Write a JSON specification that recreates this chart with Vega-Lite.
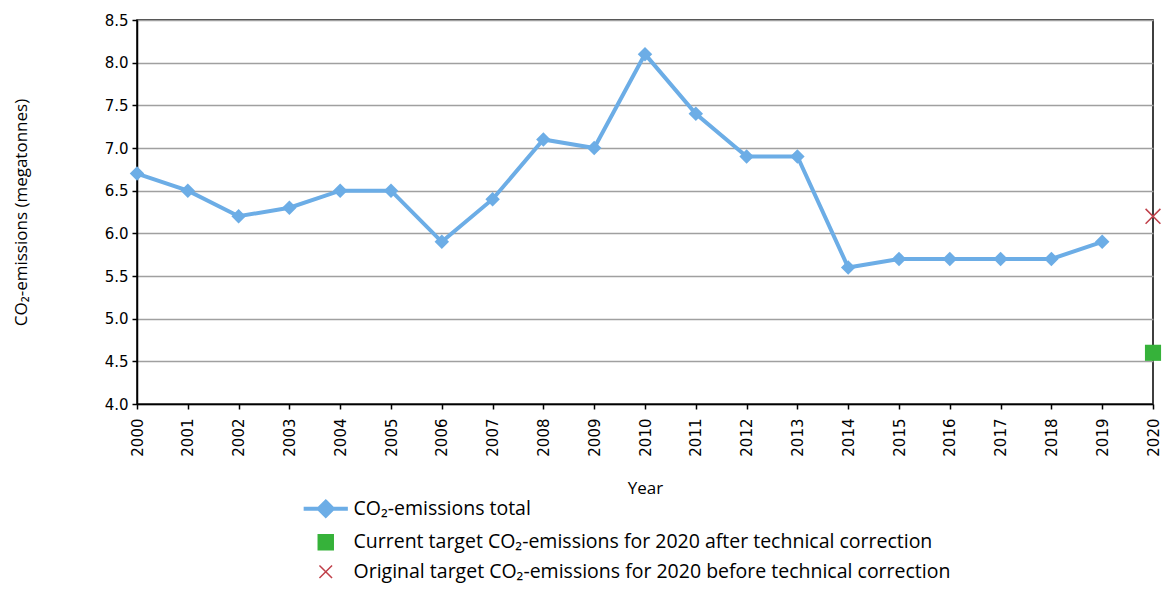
{
  "$schema": "https://vega.github.io/schema/vega-lite/v6.json",
  "autosize": "none",
  "width": 1016,
  "height": 384,
  "padding": {"left": 137, "top": 20, "right": 14, "bottom": 185},
  "background": "white",
  "config": {
    "view": {"stroke": "black", "strokeWidth": 1.5},
    "axis": {
      "domainColor": "black", "domainWidth": 1.5, "tickColor": "black", "tickWidth": 1.5, "tickSize": 5,
      "labelFont": "DejaVu Sans", "labelFontSize": 15, "labelColor": "black",
      "titleFont": "Open Sans", "titleFontSize": 17, "titleFontWeight": "normal", "titleColor": "black",
      "gridColor": "#A0A0A0", "gridWidth": 1.5
    }
  },
  "data": {
    "values": [
      {"year": 2000, "value": 6.7, "series": "CO₂-emissions total"},
      {"year": 2001, "value": 6.5, "series": "CO₂-emissions total"},
      {"year": 2002, "value": 6.2, "series": "CO₂-emissions total"},
      {"year": 2003, "value": 6.3, "series": "CO₂-emissions total"},
      {"year": 2004, "value": 6.5, "series": "CO₂-emissions total"},
      {"year": 2005, "value": 6.5, "series": "CO₂-emissions total"},
      {"year": 2006, "value": 5.9, "series": "CO₂-emissions total"},
      {"year": 2007, "value": 6.4, "series": "CO₂-emissions total"},
      {"year": 2008, "value": 7.1, "series": "CO₂-emissions total"},
      {"year": 2009, "value": 7.0, "series": "CO₂-emissions total"},
      {"year": 2010, "value": 8.1, "series": "CO₂-emissions total"},
      {"year": 2011, "value": 7.4, "series": "CO₂-emissions total"},
      {"year": 2012, "value": 6.9, "series": "CO₂-emissions total"},
      {"year": 2013, "value": 6.9, "series": "CO₂-emissions total"},
      {"year": 2014, "value": 5.6, "series": "CO₂-emissions total"},
      {"year": 2015, "value": 5.7, "series": "CO₂-emissions total"},
      {"year": 2016, "value": 5.7, "series": "CO₂-emissions total"},
      {"year": 2017, "value": 5.7, "series": "CO₂-emissions total"},
      {"year": 2018, "value": 5.7, "series": "CO₂-emissions total"},
      {"year": 2019, "value": 5.9, "series": "CO₂-emissions total"},
      {"year": 2020, "value": 4.6, "series": "Current target CO₂-emissions for 2020 after technical correction"},
      {"year": 2020, "value": 6.2, "series": "Original target CO₂-emissions for 2020 before technical correction"}
    ]
  },
  "encoding": {
    "x": {
      "field": "year", "type": "quantitative",
      "scale": {"domain": [2000, 2020], "nice": false, "zero": false},
      "axis": {
        "values": [2000,2001,2002,2003,2004,2005,2006,2007,2008,2009,2010,2011,2012,2013,2014,2015,2016,2017,2018,2019,2020],
        "format": "d", "labelAngle": -90, "labelAlign": "right", "labelBaseline": "middle", "labelPadding": 9,
        "grid": false, "title": "Year", "titlePadding": 24
      }
    },
    "y": {
      "field": "value", "type": "quantitative",
      "scale": {"domain": [4, 8.5], "nice": false, "zero": false},
      "axis": {
        "values": [4,4.5,5,5.5,6,6.5,7,7.5,8,8.5],
        "format": ".1f", "labelPadding": 4, "grid": true,
        "title": "CO₂-emissions (megatonnes)", "titlePadding": 74
      }
    },
    "color": {
      "field": "series", "type": "nominal",
      "scale": {
        "domain": ["CO₂-emissions total", "Current target CO₂-emissions for 2020 after technical correction", "Original target CO₂-emissions for 2020 before technical correction"],
        "range": ["#6CADE6", "#36B23A", "#C0404A"]
      },
      "legend": {
        "orient": "none", "legendX": 179, "legendY": 479, "direction": "vertical",
        "title": null, "padding": 0, "rowPadding": 7.5, "symbolSize": 1156,
        "labelFont": "Open Sans", "labelFontSize": 19.5, "labelColor": "black", "labelOffset": 18,
        "labelLimit": 800,
        "encode": {
          "symbols": {
            "update": {
              "shape": {"signal": "datum.index === 0 ? 'M-1.3,0L1.3,0M0,-0.41L0.41,0L0,0.41L-0.41,0Z' : datum.index === 1 ? 'M-0.44,-0.44L0.44,-0.44L0.44,0.44L-0.44,0.44Z' : 'M-0.37,-0.37L0.37,0.37M0.37,-0.37L-0.37,0.37'"},
              "fill": {"signal": "datum.index === 0 ? '#6CADE6' : datum.index === 1 ? '#36B23A' : 'transparent'"},
              "stroke": {"signal": "datum.index === 0 ? '#6CADE6' : datum.index === 1 ? 'transparent' : '#C0404A'"},
              "strokeWidth": {"signal": "datum.index === 0 ? 4 : 1.5"}
            }
          }
        }
      }
    }
  },
  "layer": [
    {
      "transform": [{"filter": "datum.series === 'CO₂-emissions total'"}],
      "mark": {"type": "line", "strokeWidth": 4},
      "encoding": {}
    },
    {
      "transform": [{"filter": "datum.series === 'CO₂-emissions total'"}],
      "mark": {"type": "point", "shape": "diamond", "filled": true, "size": 210, "opacity": 1}
    },
    {
      "transform": [{"filter": "indexof(datum.series, 'Current') === 0"}],
      "mark": {"type": "point", "shape": "square", "filled": true, "size": 260, "opacity": 1, "clip": false}
    },
    {
      "transform": [{"filter": "indexof(datum.series, 'Original') === 0"}],
      "mark": {"type": "point", "shape": "M-1,-1L1,1M1,-1L-1,1", "filled": false, "size": 220, "strokeWidth": 1.5, "opacity": 1}
    }
  ]
}
